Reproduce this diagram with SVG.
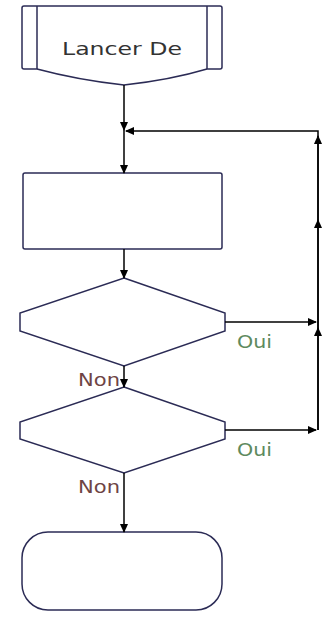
<svg xmlns="http://www.w3.org/2000/svg" width="334" height="619" viewBox="0 0 334 619">
<defs>
<style>
.node{fill:#fff;stroke:#2b2b55;stroke-width:1.5}
.edge{fill:none;stroke:#000;stroke-width:1.5}
.lbl{font-family:"DejaVu Sans",Verdana,sans-serif;font-size:17px}
.oui{fill:#5e8a5e}
.non{fill:#6e4444}
</style>
<marker id="arr" markerWidth="10" markerHeight="10" refX="8" refY="4" orient="auto" markerUnits="userSpaceOnUse">
<path d="M0,0 L9,4 L0,8 Z" fill="#000"/>
</marker>
</defs>
<rect width="334" height="619" fill="#fff"/>
<g id="start">
<path class="node" d="M24,6 H220 Q222,6 222,8 V67 Q222,69 220,69 H207 Q170,80 124,85 Q78,80 37,69 H24 Q22,69 22,67 V8 Q22,6 24,6 Z"/>
<line class="node" x1="37" y1="6" x2="37" y2="69"/>
<line class="node" x1="207" y1="6" x2="207" y2="69"/>
<text class="lbl" x="122" y="55" text-anchor="middle" fill="#333" font-size="19" textLength="120" lengthAdjust="spacingAndGlyphs">Lancer De</text>
</g>
<g id="process">
<rect class="node" x="23" y="173" width="199" height="76" rx="2"/>
</g>
<g id="decision1">
<path class="node" d="M124,278 L225,313 V331 L124,366 L20,331 V313 Z"/>
</g>
<g id="decision2">
<path class="node" d="M124,387 L225,422 V439 L124,473 L20,439 V422 Z"/>
</g>
<g id="end">
<rect class="node" x="22" y="532" width="200" height="78" rx="26"/>
</g>
<g id="connectors">
<line class="edge" x1="124" y1="85" x2="124" y2="130" marker-end="url(#arr)"/>
<line class="edge" x1="124" y1="130" x2="124" y2="173" marker-end="url(#arr)"/>
<line class="edge" x1="124" y1="249" x2="124" y2="278" marker-end="url(#arr)"/>
<line class="edge" x1="124" y1="366" x2="124" y2="387" marker-end="url(#arr)"/>
<line class="edge" x1="124" y1="473" x2="124" y2="532" marker-end="url(#arr)"/>
<line class="edge" x1="225" y1="322" x2="316" y2="322" marker-end="url(#arr)"/>
<line class="edge" x1="225" y1="430" x2="316" y2="430" marker-end="url(#arr)"/>
<polyline class="edge" points="318,430 318,131 126,131" marker-end="url(#arr)"/>
<line class="edge" x1="318" y1="430" x2="318" y2="328" marker-end="url(#arr)"/>
<line class="edge" x1="318" y1="330" x2="318" y2="220" marker-end="url(#arr)"/>
<line class="edge" x1="318" y1="220" x2="318" y2="136" marker-end="url(#arr)"/>
</g>
<g id="labels">
<text class="lbl oui" x="237" y="348" textLength="35" lengthAdjust="spacingAndGlyphs">Oui</text>
<text class="lbl non" x="78" y="386" textLength="42" lengthAdjust="spacingAndGlyphs">Non</text>
<text class="lbl oui" x="237" y="456" textLength="35" lengthAdjust="spacingAndGlyphs">Oui</text>
<text class="lbl non" x="78" y="493" textLength="42" lengthAdjust="spacingAndGlyphs">Non</text>
</g>
</svg>
